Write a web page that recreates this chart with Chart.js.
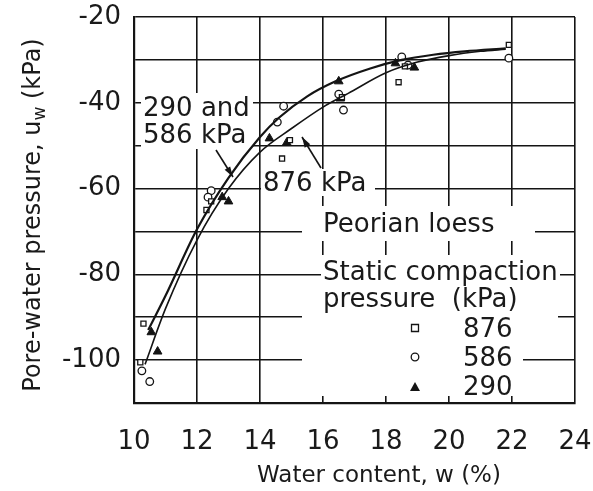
<!DOCTYPE html>
<html>
<head>
<meta charset="utf-8">
<script src="https://cdn.jsdelivr.net/npm/chart.js@4/dist/chart.umd.min.js"></script>
<style>
  html, body { margin: 0; padding: 0; background: #fff; }
  #wrap { width: 593px; height: 491px; }
</style>
</head>
<body>
<div id="wrap"><canvas id="chart" width="593" height="491"></canvas></div>
<script>
(function () {
  "use strict";

  // tick labels
  var xTickLabels = [10, 12, 14, 16, 18, 20, 22, 24];
  var yTickLabels = [-20, -40, -60, -80, -100];

  // measured points, static compaction pressure 876 kPa (squares)
  var w876 = [10.3, 10.2, 12.3, 12.45, 14.7, 14.95, 16.6, 18.4, 18.6, 21.9];
  var uw876 = [-91.5, -100.5, -65, -63, -53, -48.7, -38.7, -35.2, -31.5, -26.5];

  // 586 kPa (circles)
  var w586 = [10.25, 10.5, 12.45, 12.35, 14.75, 14.55, 16.65, 16.5, 18.5, 18.7, 21.9];
  var uw586 = [-102.5, -105, -60.5, -62, -40.8, -44.5, -41.7, -38, -29.3, -31.2, -29.6];

  // 290 kPa (triangles)
  var w290 = [10.55, 10.75, 12.8, 13.0, 14.3, 14.85, 16.5, 16.55, 18.3, 18.9];
  var uw290 = [-93.5, -98, -62, -63, -48.3, -49.3, -35, -39, -30.8, -31.8];

  // fitted curve, 290 and 586 kPa
  var curveLowW = [10.45, 11, 12, 13, 14, 14.6, 15.5, 16.4, 17.5, 18.5, 19.5, 20.5, 21.8];
  var curveLowU = [-93, -85, -69.5, -57.5, -48, -43.5, -38.5, -35, -32, -30, -28.8, -28, -27.3];

  // fitted curve, 876 kPa
  var curveHighW = [10.35, 11, 12, 13, 14, 15, 16, 16.8, 18, 19, 20, 21, 21.8];
  var curveHighU = [-101, -88, -72, -60, -51.5, -46, -41, -37.8, -33, -30.5, -29, -28, -27.5];

  var INK = "#141414";
  var FONT = "'DejaVu Sans', sans-serif";

  function pairs(xs, ys) {
    return xs.map(function (x, i) { return { x: x, y: ys[i] }; });
  }

  function whiteBox(ctx, x0, y0, x1, y1) {
    ctx.fillStyle = "#fff";
    ctx.fillRect(x0, y0, x1 - x0, y1 - y0);
  }

  function arrow(ctx, x0, y0, x1, y1) {
    var a = Math.atan2(y1 - y0, x1 - x0);
    ctx.strokeStyle = INK;
    ctx.fillStyle = INK;
    ctx.lineWidth = 1.6;
    ctx.beginPath();
    ctx.moveTo(x0, y0);
    ctx.lineTo(x1, y1);
    ctx.stroke();
    ctx.beginPath();
    ctx.moveTo(x1, y1);
    ctx.lineTo(x1 - 11 * Math.cos(a - 0.3), y1 - 11 * Math.sin(a - 0.3));
    ctx.lineTo(x1 - 11 * Math.cos(a + 0.3), y1 - 11 * Math.sin(a + 0.3));
    ctx.closePath();
    ctx.fill();
  }

  function marker(ctx, style, x, y) {
    ctx.strokeStyle = INK;
    ctx.lineWidth = 1.3;
    ctx.beginPath();
    if (style === "rect") {
      ctx.fillStyle = "#fff";
      ctx.rect(x - 3.5, y - 3.5, 7, 7);
      ctx.fill();
      ctx.stroke();
    } else if (style === "circle") {
      ctx.fillStyle = "#fff";
      ctx.arc(x, y, 3.8, 0, Math.PI * 2);
      ctx.fill();
      ctx.stroke();
    } else {
      ctx.fillStyle = INK;
      ctx.moveTo(x, y - 5);
      ctx.lineTo(x + 5, y + 4);
      ctx.lineTo(x - 5, y + 4);
      ctx.closePath();
      ctx.fill();
    }
  }

  var annotations = {
    id: "annotations",
    beforeDatasetsDraw: function (chart) {
      var ctx = chart.ctx;
      ctx.save();
      // blank the grid behind the labels
      whiteBox(ctx, 141, 93, 253, 149);
      whiteBox(ctx, 261, 169, 375, 196);
      whiteBox(ctx, 302, 206, 535, 241);
      whiteBox(ctx, 321, 255, 560, 285);
      whiteBox(ctx, 302, 285, 558, 321);
      whiteBox(ctx, 302, 321, 523, 396);

      ctx.fillStyle = "#1a1a1a";
      ctx.textBaseline = "alphabetic";
      ctx.textAlign = "left";
      ctx.font = "26px " + FONT;
      ctx.fillText("290 and", 143, 116);
      ctx.fillText("586 kPa", 143, 143);
      ctx.fillText("876 kPa", 263, 191);
      ctx.fillText("Peorian loess", 323, 232);
      ctx.fillText("Static compaction", 323, 280);
      ctx.fillText("pressure  (kPa)", 323, 307);
      ctx.fillText("876", 463, 337);
      ctx.fillText("586", 463, 366);
      ctx.fillText("290", 463, 395);

      marker(ctx, "rect", 415, 328);
      marker(ctx, "circle", 415, 357);
      marker(ctx, "triangle", 415, 387);
      ctx.restore();
    },
    afterDatasetsDraw: function (chart) {
      var ctx = chart.ctx;
      ctx.save();
      arrow(ctx, 216, 150, 233, 177);
      arrow(ctx, 321, 168, 302, 137);

      // axis titles
      ctx.fillStyle = "#1a1a1a";
      ctx.font = "23px " + FONT;
      ctx.textAlign = "center";
      ctx.textBaseline = "alphabetic";
      ctx.fillText("Water content, w (%)", 379, 482);

      ctx.translate(40, 215);
      ctx.rotate(-Math.PI / 2);
      var a = "Pore-water pressure, u";
      var b = " (kPa)";
      ctx.font = "24px " + FONT;
      var wa = ctx.measureText(a).width;
      var wb = ctx.measureText(b).width;
      ctx.font = "17px " + FONT;
      var ws = ctx.measureText("w").width;
      var start = -(wa + ws + wb) / 2;
      ctx.textAlign = "left";
      ctx.font = "24px " + FONT;
      ctx.fillText(a, start, 0);
      ctx.font = "17px " + FONT;
      ctx.fillText("w", start + wa, 5);
      ctx.font = "24px " + FONT;
      ctx.fillText(b, start + wa + ws, 0);
      ctx.restore();
    },
  };

  new Chart(document.getElementById("chart"), {
    type: "scatter",
    data: {
      datasets: [
        {
          label: "290 and 586 kPa",
          data: pairs(curveLowW, curveLowU),
          showLine: true,
          pointRadius: 0,
          borderColor: INK,
          borderWidth: 2.2,
          cubicInterpolationMode: "monotone",
        },
        {
          label: "876 kPa",
          data: pairs(curveHighW, curveHighU),
          showLine: true,
          pointRadius: 0,
          borderColor: INK,
          borderWidth: 1.6,
          cubicInterpolationMode: "monotone",
        },
        {
          label: "876",
          data: pairs(w876, uw876),
          pointStyle: "rect",
          pointRadius: 3.6,
          backgroundColor: "#fff",
          borderColor: INK,
          borderWidth: 1.3,
        },
        {
          label: "586",
          data: pairs(w586, uw586),
          pointStyle: "circle",
          pointRadius: 3.8,
          backgroundColor: "#fff",
          borderColor: INK,
          borderWidth: 1.3,
        },
        {
          label: "290",
          data: pairs(w290, uw290),
          pointStyle: "triangle",
          pointRadius: 5,
          backgroundColor: INK,
          borderColor: INK,
          borderWidth: 1,
        },
      ],
    },
    options: {
      responsive: false,
      animation: false,
      layout: { padding: { top: 17, right: 18, left: 0, bottom: 0 } },
      plugins: {
        legend: { display: false },
        tooltip: { enabled: false },
      },
      scales: {
        x: {
          type: "linear",
          min: 10,
          max: 24,
          afterFit: function (scale) {
            scale.height = 88;
            scale.paddingLeft = 0;
            scale.paddingRight = 0;
          },
          afterBuildTicks: function (scale) {
            scale.ticks = xTickLabels.map(function (v) { return { value: v }; });
          },
          ticks: {
            color: "#1a1a1a",
            font: { family: FONT, size: 26 },
            padding: 24,
            maxRotation: 0,
            callback: function (v) { return String(v); },
          },
          grid: { color: INK, lineWidth: 1.6, drawTicks: false },
          border: { color: INK, width: 2.2 },
        },
        y: {
          type: "linear",
          min: -110,
          max: -20,
          afterFit: function (scale) {
            scale.width = 134;
            scale.paddingTop = 0;
            scale.paddingBottom = 0;
          },
          ticks: {
            stepSize: 10,
            color: "#1a1a1a",
            font: { family: FONT, size: 26 },
            padding: 13,
            callback: function (v) {
              return yTickLabels.indexOf(v) >= 0 ? String(v) : "";
            },
          },
          grid: { color: INK, lineWidth: 1.6, drawTicks: false },
          border: { color: INK, width: 2.2 },
        },
      },
    },
    plugins: [annotations],
  });
})();
</script>
</body>
</html>
